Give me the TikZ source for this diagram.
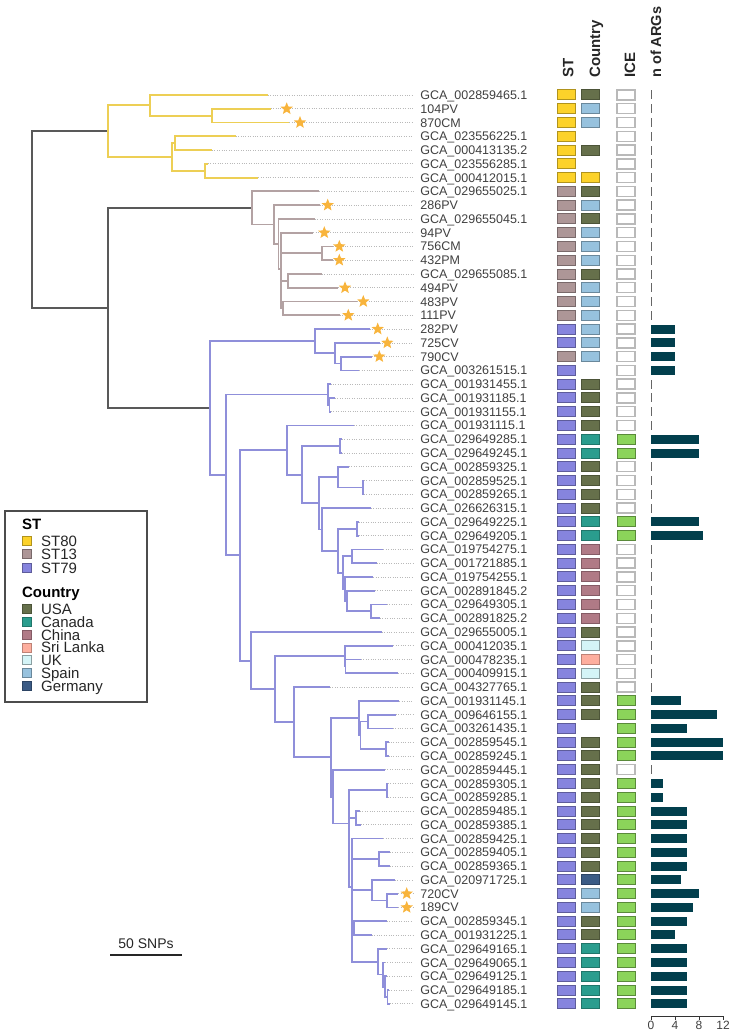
\documentclass[tikz,border=0pt]{standalone}
\usepackage{fontspec}
\setmainfont{Liberation Sans}
\usetikzlibrary{shapes.geometric}
\definecolor{cST80}{HTML}{FCD22A}
\definecolor{cST13}{HTML}{AD9697}
\definecolor{cST79}{HTML}{8684DE}
\definecolor{brY}{HTML}{EDCF55}
\definecolor{brM}{HTML}{B3A2A3}
\definecolor{brB}{HTML}{8F8FDA}
\definecolor{brK}{HTML}{595959}
\definecolor{cUSA}{HTML}{66704B}
\definecolor{cCan}{HTML}{2A9D8E}
\definecolor{cChi}{HTML}{B07A86}
\definecolor{cSri}{HTML}{FDAE9E}
\definecolor{cUK}{HTML}{D4F4F7}
\definecolor{cSpa}{HTML}{97C2DE}
\definecolor{cGer}{HTML}{3B5B85}
\definecolor{cICE}{HTML}{8BD45A}
\definecolor{cBar}{HTML}{023F4D}
\definecolor{cStar}{HTML}{F8B43C}
\definecolor{labc}{HTML}{404040}
\newcommand{\treenode}[3]{\coordinate (#1) at (#2,{95+13.77*((#3)-1)});}
\newcommand{\leafrow}[5]{%
  \coordinate (t#1) at (#2,{95+13.77*(#1-1)});
  \coordinate (d#1) at (413,{95+13.77*(#1-1)});
  \node[lab] (lab#1) at (420,{99.5+13.77*(#1-1)}) {#5};
  \draw[dotl] (t#1) -- (d#1);
  \draw[#4] (#3) |- (t#1);
}
\newcommand{\starat}[2]{\node[starn] (s#1) at (#2,{95+13.77*(#1-1)}) {};}
\newcommand{\colrow}[5]{%
  \node[box,#2] (st#1) at (566.5,{95+13.77*(#1-1)}) {};
  \node[box,#3] (ct#1) at (590,{95+13.77*(#1-1)}) {};
  \node[box,#4] (ic#1) at (626,{95+13.77*(#1-1)}) {};
  \ifdim #5pt=0pt
    \fill[gray!80!black] (650.5,{95+13.77*(#1-1)-4.5}) rectangle (652.3,{95+13.77*(#1-1)+4.5});
  \else
    \fill[cBar] (651,{95+13.77*(#1-1)-4.5}) rectangle ({651+6*#5},{95+13.77*(#1-1)+4.5});
  \fi
}
\begin{document}
\begin{tikzpicture}[x=0.5pt,y=-0.5pt,
  bK/.style={line width=0.9pt, draw=brK},
  bY/.style={line width=0.9pt, draw=brY},
  bM/.style={line width=0.9pt, draw=brM},
  bB/.style={line width=0.9pt, draw=brB},
  dotl/.style={draw=gray!55, line width=0.35pt, dash pattern=on 0.4pt off 0.8pt},
  lab/.style={anchor=base west, inner sep=0pt, text=labc, font=\fontsize{6.25}{7}\selectfont},
  starn/.style={star, star points=5, star point ratio=2.3, minimum size=6.5pt, inner sep=0pt, fill=cStar, draw=none},
  box/.style={minimum width=9pt, minimum height=5pt, inner sep=0pt, line width=0.5pt, draw},
  s80/.style={fill=cST80, draw=cST80!70!black},
  s13/.style={fill=cST13, draw=cST13!70!black},
  s79/.style={fill=cST79, draw=cST79!70!black},
  usa/.style={fill=cUSA, draw=cUSA!75!black},
  can/.style={fill=cCan, draw=cCan!75!black},
  chi/.style={fill=cChi, draw=cChi!75!black},
  sri/.style={fill=cSri, draw=cSri!75!black},
  uk/.style={fill=cUK, draw=cUK!65!black},
  spa/.style={fill=cSpa, draw=cSpa!70!black},
  ger/.style={fill=cGer, draw=cGer!75!black},
  yel/.style={fill=cST80, draw=cST80!70!black},
  nc/.style={draw=none, fill=none},
  icy/.style={fill=cICE, draw=cICE!65!black},
  icn/.style={fill=white, draw=gray!55, line width=0.7pt},
  hdr/.style={rotate=90, anchor=base west, inner sep=0pt, font=\bfseries\fontsize{7.5}{9}\selectfont, text=black!85},
  legh/.style={anchor=base west, inner sep=0pt, font=\bfseries\fontsize{7.5}{9}\selectfont},
  legt/.style={anchor=base west, inner sep=0pt, font=\fontsize{7.5}{9}\selectfont, text=black!85},
  lsq/.style={minimum width=4.5pt, minimum height=4.5pt, inner sep=0pt, line width=0.4pt, draw}
]
\useasboundingbox (0,0) rectangle (734,1032);
% ---------- internal nodes ----------
\treenode{root}{31.7}{10.05}
\treenode{NT}{107.7}{16.47}
\treenode{S80}{107.7}{3.625}
\treenode{A}{150}{1.75}
\treenode{B}{212}{2.5}
\treenode{C}{171.7}{5.5}
\treenode{D}{175}{4.5}
\treenode{E}{205}{6.5}
\treenode{S13}{252.3}{9.203}
\treenode{V}{274}{10.406}
\treenode{W}{278.5}{11.8125}
\treenode{W2}{281}{13.625}
\treenode{X}{321.7}{12.5}
\treenode{Y}{288.3}{14.5}
\treenode{Z}{283.3}{16.5}
\treenode{S79}{210}{23.73}
\treenode{F}{315}{18.875}
\treenode{G}{335}{19.75}
\treenode{H}{340.7}{20.5}
\treenode{J}{226}{28.59}
\treenode{I}{328}{22.75}
\treenode{I2}{329.5}{23.5}
\treenode{LL}{240}{34.43}
\treenode{K}{286.7}{26.79}
\treenode{M}{301.7}{28.57}
\treenode{N}{340}{26.5}
\treenode{O1}{319.3}{30.65}
\treenode{P}{338.3}{28.75}
\treenode{P2}{362.7}{29.5}
\treenode{O2}{321.7}{32.547}
\treenode{Q}{338.3}{34.09}
\treenode{R}{356.7}{32.5}
\treenode{T}{343.3}{35.6875}
\treenode{S}{351.7}{34.5}
\treenode{T2}{345}{36.875}
\treenode{T3}{347}{37.75}
\treenode{U}{370.7}{38.5}
\treenode{AA}{250.7}{42.08}
\treenode{AB}{275.3}{44.15}
\treenode{AC}{344.7}{41.75}
\treenode{AC2}{345.5}{42.5}
\treenode{AD}{294.3}{46.55}
\treenode{AE}{330.7}{49.1}
\treenode{AF}{359.3}{46.25}
\treenode{AF1}{360.5}{47.5}
\treenode{AF2}{367.7}{46.5}
\treenode{AF3}{386}{48.5}
\treenode{AG}{333}{51.96}
\treenode{AH}{349.3}{53.9}
\treenode{AI}{386.7}{51.5}
\treenode{AK}{356}{53.5}
\treenode{AJ}{352}{58.5}
\treenode{AL}{379.3}{56.5}
\treenode{AM}{371.7}{58.75}
\treenode{AN}{387.3}{59.5}
\treenode{AO}{354}{61.5}
\treenode{AQ}{378.3}{63.94}
\treenode{AR}{383}{64.875}
\treenode{AS}{385}{65.75}
\treenode{AT}{387.5}{66.5}
% ---------- internal edges ----------
\draw[bK] (root) |- (S80);
\draw[bK] (root) |- (NT);
\draw[bK] (NT) |- (S13);
\draw[bK] (NT) |- (S79);
\draw[bY] (S80) |- (A);
\draw[bY] (S80) |- (C);
\draw[bY] (A) |- (B);
\draw[bY] (C) |- (D);
\draw[bY] (C) |- (E);
\draw[bM] (S13) |- (V);
\draw[bM] (V) |- (W);
\draw[bM] (W) |- (W2);
\draw[bM] (W2) |- (X);
\draw[bM] (W2) |- (Y);
\draw[bM] (W2) |- (Z);
\draw[bB] (S79) |- (F);
\draw[bB] (F) |- (G);
\draw[bB] (G) |- (H);
\draw[bB] (S79) |- (J);
\draw[bB] (J) |- (I);
\draw[bB] (I) |- (I2);
\draw[bB] (J) |- (LL);
\draw[bB] (LL) |- (K);
\draw[bB] (K) |- (M);
\draw[bB] (M) |- (N);
\draw[bB] (M) |- (O1);
\draw[bB] (O1) |- (P);
\draw[bB] (P) |- (P2);
\draw[bB] (O1) |- (O2);
\draw[bB] (O2) |- (Q);
\draw[bB] (Q) |- (R);
\draw[bB] (Q) |- (T);
\draw[bB] (T) |- (S);
\draw[bB] (T) |- (T2);
\draw[bB] (T2) |- (T3);
\draw[bB] (T3) |- (U);
\draw[bB] (LL) |- (AA);
\draw[bB] (AA) |- (AB);
\draw[bB] (AB) |- (AC);
\draw[bB] (AC) |- (AC2);
\draw[bB] (AB) |- (AD);
\draw[bB] (AD) |- (AE);
\draw[bB] (AE) |- (AF);
\draw[bB] (AF) |- (AF1);
\draw[bB] (AF1) |- (AF2);
\draw[bB] (AF1) |- (AF3);
\draw[bB] (AE) |- (AG);
\draw[bB] (AG) |- (AH);
\draw[bB] (AH) |- (AI);
\draw[bB] (AH) |- (AK);
\draw[bB] (AH) |- (AJ);
\draw[bB] (AJ) |- (AL);
\draw[bB] (AJ) |- (AM);
\draw[bB] (AM) |- (AN);
\draw[bB] (AJ) |- (AO);
\draw[bB] (AJ) |- (AQ);
\draw[bB] (AQ) |- (AR);
\draw[bB] (AR) |- (AS);
\draw[bB] (AS) |- (AT);
% ---------- leaves ----------
\leafrow{1}{267.7}{A}{bY}{GCA\_002859465.1}
\leafrow{2}{270.7}{B}{bY}{104PV}
\leafrow{3}{289.3}{B}{bY}{870CM}
\leafrow{4}{235.7}{D}{bY}{GCA\_023556225.1}
\leafrow{5}{212}{D}{bY}{GCA\_000413135.2}
\leafrow{6}{208}{E}{bY}{GCA\_023556285.1}
\leafrow{7}{258.3}{E}{bY}{GCA\_000412015.1}
\leafrow{8}{319.3}{S13}{bM}{GCA\_029655025.1}
\leafrow{9}{320}{V}{bM}{286PV}
\leafrow{10}{315}{W}{bM}{GCA\_029655045.1}
\leafrow{11}{313.3}{W2}{bM}{94PV}
\leafrow{12}{333}{X}{bM}{756CM}
\leafrow{13}{333}{X}{bM}{432PM}
\leafrow{14}{321.7}{Y}{bM}{GCA\_029655085.1}
\leafrow{15}{338.3}{Y}{bM}{494PV}
\leafrow{16}{356.7}{Z}{bM}{483PV}
\leafrow{17}{340}{Z}{bM}{111PV}
\leafrow{18}{370}{F}{bB}{282PV}
\leafrow{19}{380}{G}{bB}{725CV}
\leafrow{20}{371.7}{H}{bB}{790CV}
\leafrow{21}{359.3}{H}{bB}{GCA\_003261515.1}
\leafrow{22}{330.5}{I}{bB}{GCA\_001931455.1}
\leafrow{23}{335}{I2}{bB}{GCA\_001931185.1}
\leafrow{24}{331}{I2}{bB}{GCA\_001931155.1}
\leafrow{25}{354}{K}{bB}{GCA\_001931115.1}
\leafrow{26}{342}{N}{bB}{GCA\_029649285.1}
\leafrow{27}{342}{N}{bB}{GCA\_029649245.1}
\leafrow{28}{349}{P}{bB}{GCA\_002859325.1}
\leafrow{29}{364}{P2}{bB}{GCA\_002859525.1}
\leafrow{30}{364}{P2}{bB}{GCA\_002859265.1}
\leafrow{31}{370.7}{O2}{bB}{GCA\_026626315.1}
\leafrow{32}{358.5}{R}{bB}{GCA\_029649225.1}
\leafrow{33}{358.5}{R}{bB}{GCA\_029649205.1}
\leafrow{34}{383.3}{S}{bB}{GCA\_019754275.1}
\leafrow{35}{376.7}{S}{bB}{GCA\_001721885.1}
\leafrow{36}{373.3}{T2}{bB}{GCA\_019754255.1}
\leafrow{37}{375}{T3}{bB}{GCA\_002891845.2}
\leafrow{38}{386.7}{U}{bB}{GCA\_029649305.1}
\leafrow{39}{380}{U}{bB}{GCA\_002891825.2}
\leafrow{40}{381.7}{AA}{bB}{GCA\_029655005.1}
\leafrow{41}{393.3}{AC}{bB}{GCA\_000412035.1}
\leafrow{42}{361}{AC2}{bB}{GCA\_000478235.1}
\leafrow{43}{398.3}{AC2}{bB}{GCA\_000409915.1}
\leafrow{44}{330}{AD}{bB}{GCA\_004327765.1}
\leafrow{45}{399.3}{AF}{bB}{GCA\_001931145.1}
\leafrow{46}{396}{AF2}{bB}{GCA\_009646155.1}
\leafrow{47}{392.7}{AF2}{bB}{GCA\_003261435.1}
\leafrow{48}{388.5}{AF3}{bB}{GCA\_002859545.1}
\leafrow{49}{388.5}{AF3}{bB}{GCA\_002859245.1}
\leafrow{50}{385}{AG}{bB}{GCA\_002859445.1}
\leafrow{51}{388}{AI}{bB}{GCA\_002859305.1}
\leafrow{52}{388}{AI}{bB}{GCA\_002859285.1}
\leafrow{53}{360}{AK}{bB}{GCA\_002859485.1}
\leafrow{54}{361}{AK}{bB}{GCA\_002859385.1}
\leafrow{55}{383.3}{AJ}{bB}{GCA\_002859425.1}
\leafrow{56}{390}{AL}{bB}{GCA\_002859405.1}
\leafrow{57}{390}{AL}{bB}{GCA\_002859365.1}
\leafrow{58}{395}{AM}{bB}{GCA\_020971725.1}
\leafrow{59}{398.3}{AN}{bB}{720CV}
\leafrow{60}{398.3}{AN}{bB}{189CV}
\leafrow{61}{386.7}{AO}{bB}{GCA\_002859345.1}
\leafrow{62}{371.7}{AO}{bB}{GCA\_001931225.1}
\leafrow{63}{387}{AQ}{bB}{GCA\_029649165.1}
\leafrow{64}{385}{AR}{bB}{GCA\_029649065.1}
\leafrow{65}{387}{AS}{bB}{GCA\_029649125.1}
\leafrow{66}{389}{AT}{bB}{GCA\_029649185.1}
\leafrow{67}{390}{AT}{bB}{GCA\_029649145.1}
% ---------- stars ----------
\starat{2}{286.7}
\starat{3}{300}
\starat{9}{327.7}
\starat{11}{324.3}
\starat{12}{339.3}
\starat{13}{339.3}
\starat{15}{345}
\starat{16}{363.3}
\starat{17}{348.3}
\starat{18}{377.7}
\starat{19}{387.3}
\starat{20}{379.3}
\starat{59}{406.7}
\starat{60}{406.7}
% ---------- headers ----------
\node[hdr] (hST) at (573.3,78) {ST};
\node[hdr] (hCty) at (600,78) {Country};
\node[hdr] (hICE) at (635,78) {ICE};
\node[hdr, font=\bfseries\fontsize{7.25}{9}\selectfont] (hARG) at (661,78) {n of ARGs};
% ---------- columns ----------
\colrow{1}{s80}{usa}{icn}{0}
\colrow{2}{s80}{spa}{icn}{0}
\colrow{3}{s80}{spa}{icn}{0}
\colrow{4}{s80}{nc}{icn}{0}
\colrow{5}{s80}{usa}{icn}{0}
\colrow{6}{s80}{nc}{icn}{0}
\colrow{7}{s80}{yel}{icn}{0}
\colrow{8}{s13}{usa}{icn}{0}
\colrow{9}{s13}{spa}{icn}{0}
\colrow{10}{s13}{usa}{icn}{0}
\colrow{11}{s13}{spa}{icn}{0}
\colrow{12}{s13}{spa}{icn}{0}
\colrow{13}{s13}{spa}{icn}{0}
\colrow{14}{s13}{usa}{icn}{0}
\colrow{15}{s13}{spa}{icn}{0}
\colrow{16}{s13}{spa}{icn}{0}
\colrow{17}{s13}{spa}{icn}{0}
\colrow{18}{s79}{spa}{icn}{4}
\colrow{19}{s79}{spa}{icn}{4}
\colrow{20}{s13}{spa}{icn}{4}
\colrow{21}{s79}{nc}{icn}{4}
\colrow{22}{s79}{usa}{icn}{0}
\colrow{23}{s79}{usa}{icn}{0}
\colrow{24}{s79}{usa}{icn}{0}
\colrow{25}{s79}{usa}{icn}{0}
\colrow{26}{s79}{can}{icy}{8}
\colrow{27}{s79}{can}{icy}{8}
\colrow{28}{s79}{usa}{icn}{0}
\colrow{29}{s79}{usa}{icn}{0}
\colrow{30}{s79}{usa}{icn}{0}
\colrow{31}{s79}{usa}{icn}{0}
\colrow{32}{s79}{can}{icy}{8}
\colrow{33}{s79}{can}{icy}{8.7}
\colrow{34}{s79}{chi}{icn}{0}
\colrow{35}{s79}{chi}{icn}{0}
\colrow{36}{s79}{chi}{icn}{0}
\colrow{37}{s79}{chi}{icn}{0}
\colrow{38}{s79}{chi}{icn}{0}
\colrow{39}{s79}{chi}{icn}{0}
\colrow{40}{s79}{usa}{icn}{0}
\colrow{41}{s79}{uk}{icn}{0}
\colrow{42}{s79}{sri}{icn}{0}
\colrow{43}{s79}{uk}{icn}{0}
\colrow{44}{s79}{usa}{icn}{0}
\colrow{45}{s79}{usa}{icy}{5}
\colrow{46}{s79}{usa}{icy}{11}
\colrow{47}{s79}{nc}{icy}{6}
\colrow{48}{s79}{usa}{icy}{12}
\colrow{49}{s79}{usa}{icy}{12}
\colrow{50}{s79}{usa}{icn}{0}
\colrow{51}{s79}{usa}{icy}{2}
\colrow{52}{s79}{usa}{icy}{2}
\colrow{53}{s79}{usa}{icy}{6}
\colrow{54}{s79}{usa}{icy}{6}
\colrow{55}{s79}{usa}{icy}{6}
\colrow{56}{s79}{usa}{icy}{6}
\colrow{57}{s79}{usa}{icy}{6}
\colrow{58}{s79}{ger}{icy}{5}
\colrow{59}{s79}{spa}{icy}{8}
\colrow{60}{s79}{spa}{icy}{7}
\colrow{61}{s79}{usa}{icy}{6}
\colrow{62}{s79}{usa}{icy}{4}
\colrow{63}{s79}{can}{icy}{6}
\colrow{64}{s79}{can}{icy}{6}
\colrow{65}{s79}{can}{icy}{6}
\colrow{66}{s79}{can}{icy}{6}
\colrow{67}{s79}{can}{icy}{6}
% ---------- axis ----------
\coordinate (ax0) at (651,1016);
\coordinate (ax12) at (723,1016);
\draw[gray!40!black, line width=0.4pt] (ax0) -- (ax12);
\foreach \v/\n in {0/a0,4/a4,8/a8,12/a12}{
  \coordinate (t\n) at ({651+6*\v},1016);
  \coordinate (b\n) at ({651+6*\v},1019.5);
  \draw[gray!40!black, line width=0.4pt] (t\n) -- (b\n);
  \node[anchor=base, inner sep=0pt, font=\fontsize{6}{7}\selectfont, text=black!75] (l\n) at ({651+6*\v},1029.5) {\v};
}
% ---------- scale bar ----------
\coordinate (sb1) at (110,955);
\coordinate (sb2) at (182,955);
\draw[black!85, line width=0.6pt] (sb1) -- (sb2);
\node[anchor=base, inner sep=0pt, font=\fontsize{7}{8}\selectfont, text=black!85] (sbl) at (146,948) {50 SNPs};
% ---------- legend ----------
\node[draw=black!70, line width=0.6pt, minimum width=71pt, minimum height=95.5pt, inner sep=0pt] (legend) at (76,606.5) {};
\node[legh] (lgST) at (21.7,529.7) {ST};
\node[lsq, fill=cST80, draw=cST80!70!black] (lq1) at (26.5,540.7) {};
\node[legt] (lt1) at (40.7,546.1) {ST80};
\node[lsq, fill=cST13, draw=cST13!70!black] (lq2) at (26.5,554.2) {};
\node[legt] (lt2) at (40.7,559.6) {ST13};
\node[lsq, fill=cST79, draw=cST79!70!black] (lq3) at (26.5,567.7) {};
\node[legt] (lt3) at (40.7,573.1) {ST79};
\node[legh] (lgC) at (21.7,597.2) {Country};
\node[lsq, fill=cUSA, draw=cUSA!75!black] (lc1) at (26.5,609) {};
\node[legt] (lct1) at (40.7,614.4) {USA};
\node[lsq, fill=cCan, draw=cCan!75!black] (lc2) at (26.5,621.8) {};
\node[legt] (lct2) at (40.7,627.2) {Canada};
\node[lsq, fill=cChi, draw=cChi!75!black] (lc3) at (26.5,634.6) {};
\node[legt] (lct3) at (40.7,640) {China};
\node[lsq, fill=cSri, draw=cSri!75!black] (lc4) at (26.5,647.4) {};
\node[legt] (lct4) at (40.7,652.8) {Sri Lanka};
\node[lsq, fill=cUK, draw=cUK!65!black] (lc5) at (26.5,660.2) {};
\node[legt] (lct5) at (40.7,665.6) {UK};
\node[lsq, fill=cSpa, draw=cSpa!70!black] (lc6) at (26.5,673) {};
\node[legt] (lct6) at (40.7,678.4) {Spain};
\node[lsq, fill=cGer, draw=cGer!75!black] (lc7) at (26.5,685.8) {};
\node[legt] (lct7) at (40.7,691.2) {Germany};
\end{tikzpicture}
\end{document}
